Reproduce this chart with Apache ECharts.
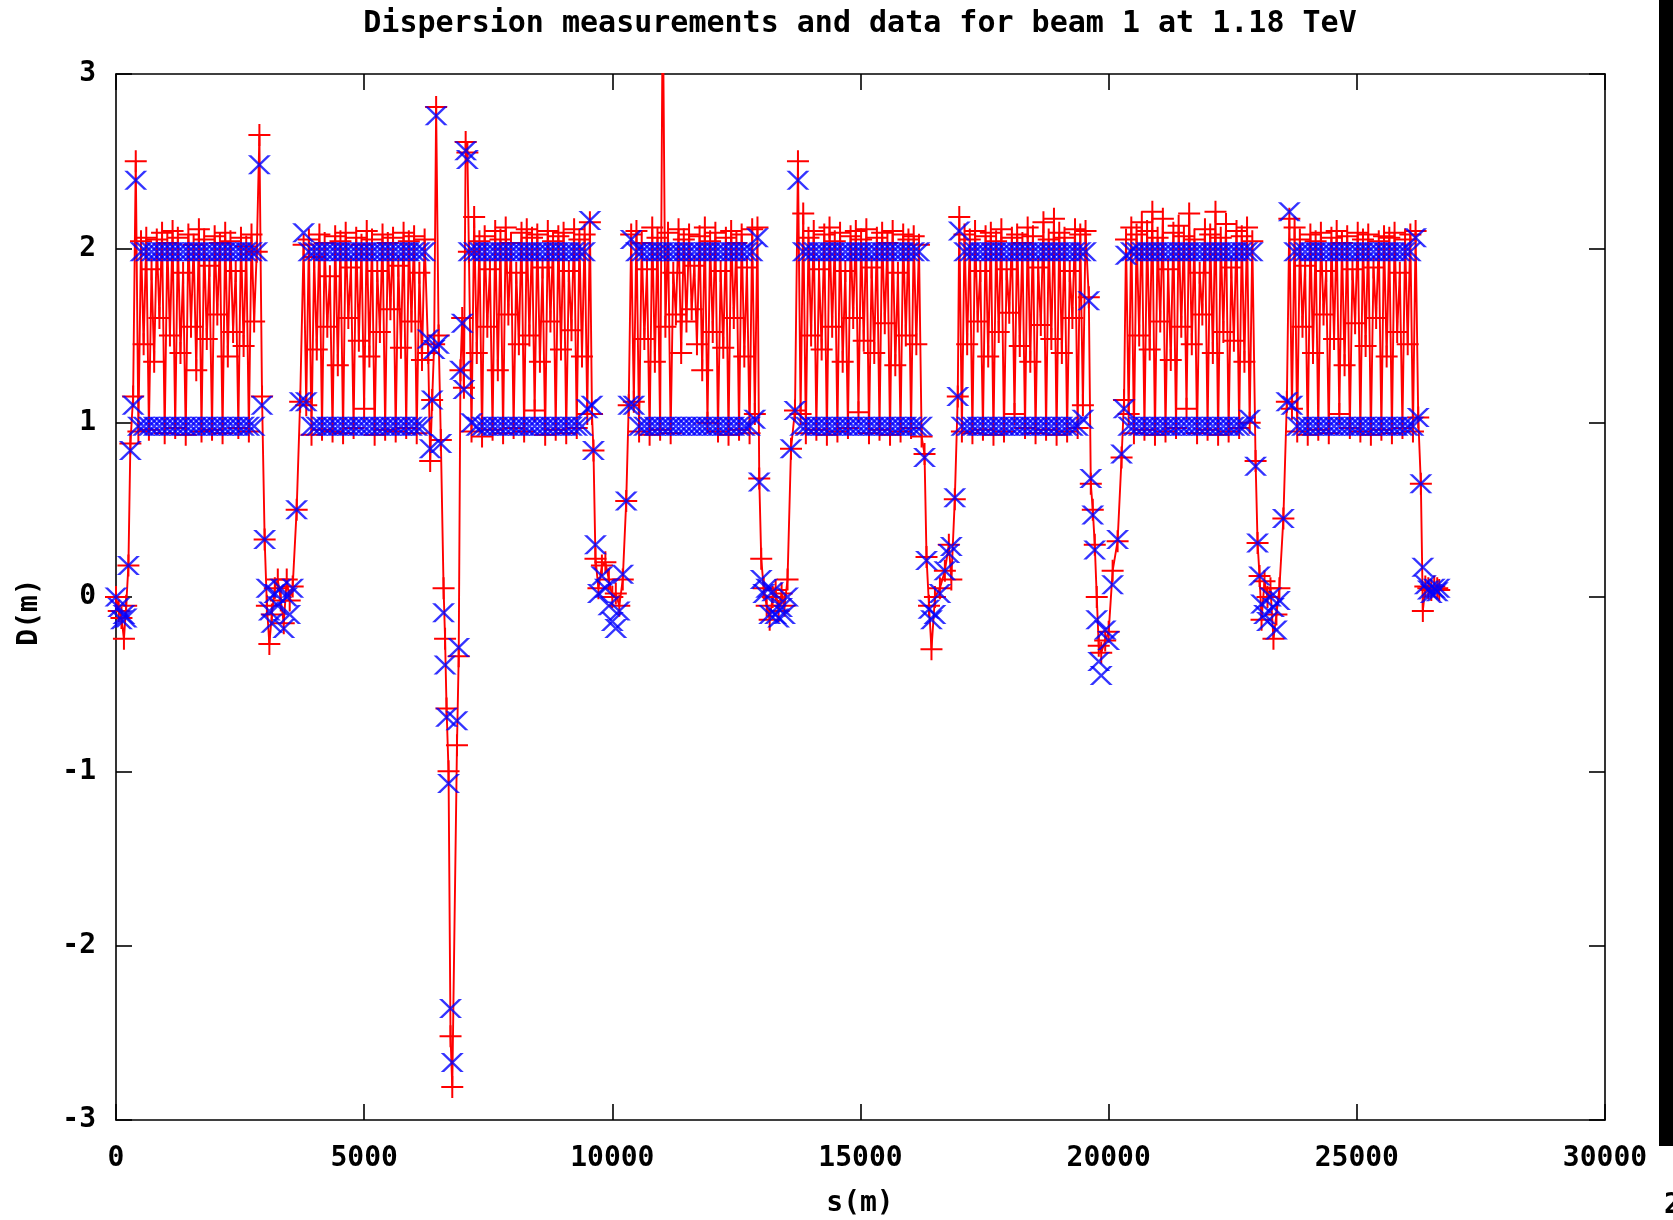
<!DOCTYPE html>
<html>
<head>
<meta charset="utf-8">
<title>Dispersion beam 1</title>
<script src="https://cdn.jsdelivr.net/npm/echarts@6/dist/echarts.min.js"></script>
<style>
  html, body { margin: 0; padding: 0; background: #fff; }
  #chart { width: 1673px; height: 1220px; }
</style>
</head>
<body>
<div id="chart"></div>
<script>
// Axis ticks
const xTicks = [0, 5000, 10000, 15000, 20000, 25000, 30000];
const yTicks = [-3, -2, -1, 0, 1, 2, 3];

// BPM positions s (m), measured dispersion D (m) and model dispersion D (m), per machine section
const ir0S = [0, 55, 110, 160, 205, 250, 290];
const ir0Meas = [0.00, -0.08, -0.12, -0.24, -0.05, 0.18, 0.88];
const ir0Model = [0.00, -0.06, -0.13, -0.10, -0.12, 0.18, 0.84];

const arc1S = [345, 398, 451, 504, 557, 610, 663, 716, 769, 822, 875, 928, 981, 1034, 1087, 1140, 1193, 1246, 1299, 1352, 1405, 1458, 1511, 1564, 1617, 1670, 1723, 1776, 1829, 1882, 1935, 1988, 2041, 2094, 2147, 2200, 2253, 2306, 2359, 2412, 2465, 2518, 2571, 2624, 2677, 2730, 2783, 2836, 2889, 2942];
const arc1Meas = [
  1.15, 2.50, 0.95, 2.04, 1.45, 2.06, 0.96, 1.88, 1.35, 2.05,
  1.60, 2.09, 0.94, 2.03, 1.50, 2.10, 0.97, 2.06, 1.40, 1.86,
  0.93, 2.08, 1.55, 2.02, 1.30, 2.11, 0.95, 2.05, 1.48, 1.90,
  0.96, 2.07, 1.62, 2.03, 0.94, 2.09, 1.38, 2.04, 1.52, 1.87,
  0.97, 2.06, 1.44, 2.01, 0.95, 2.08, 1.58, 1.98, 2.65, 1.15];
const arc1Model = [
  1.10, 2.39, 0.98, 1.98, 0.98, 1.98, 0.98, 1.98, 0.98, 1.98,
  0.98, 1.98, 0.98, 1.98, 0.98, 1.98, 0.98, 1.98, 0.98, 1.98,
  0.98, 1.98, 0.98, 1.98, 0.98, 1.98, 0.98, 1.98, 0.98, 1.98,
  0.98, 1.98, 0.98, 1.98, 0.98, 1.98, 0.98, 1.98, 0.98, 1.98,
  0.98, 1.98, 0.98, 1.98, 0.98, 1.98, 0.98, 1.98, 2.48, 1.10];

const ir1S = [2995, 3040, 3090, 3140, 3200, 3260, 3320, 3380, 3440, 3500, 3560, 3640, 3710];
const ir1Meas = [0.33, -0.05, -0.27, -0.10, 0.05, 0.10, -0.02, -0.15, 0.10, -0.02, 0.06, 0.50, 1.12];
const ir1Model = [0.33, 0.05, -0.08, -0.15, 0.02, -0.05, 0.05, -0.18, 0.00, -0.10, 0.05, 0.50, 1.12];

const arc2S = [3780, 3833, 3886, 3939, 3992, 4045, 4098, 4151, 4204, 4257, 4310, 4363, 4416, 4469, 4522, 4575, 4628, 4681, 4734, 4787, 4840, 4893, 4946, 4999, 5052, 5105, 5158, 5211, 5264, 5317, 5370, 5423, 5476, 5529, 5582, 5635, 5688, 5741, 5794, 5847, 5900, 5953, 6006, 6059, 6112, 6165, 6218];
const arc2Meas = [
  2.02, 1.10, 2.05, 0.93, 1.95, 1.42, 2.08, 0.96, 2.03, 1.55,
  1.84, 0.95, 2.07, 1.33, 2.04, 0.94, 2.09, 1.60, 1.89, 0.97,
  2.06, 1.47, 2.02, 1.08, 2.10, 1.38, 2.05, 0.93, 1.87, 1.52,
  2.08, 0.96, 2.03, 1.65, 2.06, 0.95, 1.90, 1.43, 2.09, 0.97,
  2.04, 1.58, 2.07, 0.94, 1.86, 1.36, 2.05];
const arc2Model = [
  2.09, 1.12, 1.98, 0.98, 1.98, 0.98, 1.98, 0.98, 1.98, 0.98,
  1.98, 0.98, 1.98, 0.98, 1.98, 0.98, 1.98, 0.98, 1.98, 0.98,
  1.98, 0.98, 1.98, 0.98, 1.98, 0.98, 1.98, 0.98, 1.98, 0.98,
  1.98, 0.98, 1.98, 0.98, 1.98, 0.98, 1.98, 0.98, 1.98, 0.98,
  1.98, 0.98, 1.98, 0.98, 1.98, 0.98, 1.98];

const ir2S = [6290, 6330, 6370, 6410, 6450, 6500, 6545, 6600, 6630, 6660, 6700, 6740, 6775, 6870, 6905, 6940, 6975, 7010, 7045, 7080];
const ir2Meas = [1.40, 0.78, 1.13, 1.45, 2.81, 1.50, 0.90, 0.05, -0.24, -0.64, -1.00, -2.52, -2.81, -0.85, -0.34, 1.30, 1.60, 1.20, 2.61, 2.55];
const ir2Model = [1.48, 0.85, 1.13, 1.42, 2.76, 1.45, 0.88, -0.09, -0.39, -0.69, -1.07, -2.36, -2.67, -0.71, -0.29, 1.30, 1.57, 1.19, 2.56, 2.51];

const arc3S = [7110, 7163, 7216, 7269, 7322, 7375, 7428, 7481, 7534, 7587, 7640, 7693, 7746, 7799, 7852, 7905, 7958, 8011, 8064, 8117, 8170, 8223, 8276, 8329, 8382, 8435, 8488, 8541, 8594, 8647, 8700, 8753, 8806, 8859, 8912, 8965, 9018, 9071, 9124, 9177, 9230, 9283, 9336, 9389, 9442, 9495, 9548];
const arc3Meas = [
  1.98, 0.95, 2.18, 1.40, 2.04, 0.92, 2.07, 1.55, 1.88, 0.96,
  2.10, 1.30, 2.05, 0.94, 2.12, 1.62, 2.03, 0.97, 1.86, 1.45,
  2.09, 0.95, 2.11, 1.50, 2.06, 1.07, 2.08, 1.35, 1.89, 0.93,
  2.10, 1.58, 2.04, 0.96, 2.07, 1.42, 2.09, 0.94, 1.87, 1.53,
  2.11, 0.97, 2.05, 1.38, 2.08, 1.05, 2.15];
const arc3Model = [
  1.98, 1.00, 1.98, 0.98, 1.98, 0.98, 1.98, 0.98, 1.98, 0.98,
  1.98, 0.98, 1.98, 0.98, 1.98, 0.98, 1.98, 0.98, 1.98, 0.98,
  1.98, 0.98, 1.98, 0.98, 1.98, 0.98, 1.98, 0.98, 1.98, 0.98,
  1.98, 0.98, 1.98, 0.98, 1.98, 0.98, 1.98, 0.98, 1.98, 0.98,
  1.98, 0.98, 1.98, 0.98, 1.98, 1.08, 2.16];

const ir3S = [9590, 9620, 9660, 9720, 9790, 9860, 9930, 10000, 10070, 10140, 10210, 10280, 10330];
const ir3Meas = [1.05, 0.84, 0.22, 0.05, 0.18, 0.20, 0.10, 0.00, 0.02, -0.05, 0.10, 0.55, 1.10];
const ir3Model = [1.10, 0.84, 0.30, 0.02, 0.12, 0.05, -0.05, -0.14, -0.18, -0.08, 0.13, 0.55, 1.10];

const arc4S = [10380, 10433, 10486, 10539, 10592, 10645, 10698, 10751, 10804, 10857, 10910, 10963, 11016, 11069, 11122, 11175, 11228, 11281, 11334, 11387, 11440, 11493, 11546, 11599, 11652, 11705, 11758, 11811, 11864, 11917, 11970, 12023, 12076, 12129, 12182, 12235, 12288, 12341, 12394, 12447, 12500, 12553, 12606, 12659, 12712, 12765, 12818, 12871, 12924];
const arc4Meas = [
  2.08, 1.12, 2.10, 0.95, 2.03, 1.48, 1.88, 0.93, 2.12, 1.35,
  2.06, 0.96, 3.50, 1.55, 2.09, 0.94, 1.86, 1.62, 2.11, 1.40,
  2.05, 1.58, 2.08, 1.65, 1.90, 1.45, 2.07, 1.30, 2.12, 1.00,
  2.04, 1.52, 2.09, 0.95, 1.87, 1.43, 2.06, 0.93, 2.10, 1.60,
  2.03, 0.96, 2.08, 1.38, 1.89, 0.94, 2.11, 1.05, 2.12];
const arc4Model = [
  2.05, 1.10, 1.98, 0.98, 1.98, 0.98, 1.98, 0.98, 1.98, 0.98,
  1.98, 0.98, 1.98, 0.98, 1.98, 0.98, 1.98, 0.98, 1.98, 0.98,
  1.98, 0.98, 1.98, 0.98, 1.98, 0.98, 1.98, 0.98, 1.98, 0.98,
  1.98, 0.98, 1.98, 0.98, 1.98, 0.98, 1.98, 0.98, 1.98, 0.98,
  1.98, 0.98, 1.98, 0.98, 1.98, 0.98, 1.98, 1.02, 2.06];

const ir4S = [12960, 13000, 13050, 13110, 13170, 13230, 13290, 13350, 13410, 13470, 13530, 13600, 13680];
const ir4Meas = [0.68, 0.22, 0.05, -0.05, -0.13, 0.00, 0.04, -0.08, 0.02, -0.05, 0.10, 0.85, 1.07];
const ir4Model = [0.66, 0.10, 0.02, 0.05, -0.10, 0.03, -0.10, -0.12, -0.06, -0.10, 0.00, 0.85, 1.07];

const arc5S = [13740, 13793, 13846, 13899, 13952, 14005, 14058, 14111, 14164, 14217, 14270, 14323, 14376, 14429, 14482, 14535, 14588, 14641, 14694, 14747, 14800, 14853, 14906, 14959, 15012, 15065, 15118, 15171, 15224, 15277, 15330, 15383, 15436, 15489, 15542, 15595, 15648, 15701, 15754, 15807, 15860, 15913, 15966, 16019, 16072, 16125, 16178, 16231];
const arc5Meas = [
  2.50, 1.05, 2.20, 0.94, 2.06, 1.50, 2.10, 0.96, 1.88, 1.42,
  2.08, 0.93, 2.12, 1.55, 2.04, 0.95, 2.09, 1.35, 1.87, 0.97,
  2.07, 1.60, 2.10, 1.06, 2.05, 1.47, 2.11, 0.94, 1.89, 1.40,
  2.06, 0.96, 2.09, 1.57, 2.03, 0.93, 2.10, 1.33, 1.86, 0.95,
  2.08, 1.50, 2.05, 0.97, 2.07, 1.45, 2.02, 0.92];
const arc5Model = [
  2.39, 0.98, 1.98, 0.98, 1.98, 0.98, 1.98, 0.98, 1.98, 0.98,
  1.98, 0.98, 1.98, 0.98, 1.98, 0.98, 1.98, 0.98, 1.98, 0.98,
  1.98, 0.98, 1.98, 0.98, 1.98, 0.98, 1.98, 0.98, 1.98, 0.98,
  1.98, 0.98, 1.98, 0.98, 1.98, 0.98, 1.98, 0.98, 1.98, 0.98,
  1.98, 0.98, 1.98, 0.98, 1.98, 0.98, 1.98, 0.98];

const ir5S = [16290, 16330, 16380, 16430, 16500, 16600, 16700, 16780, 16830, 16900, 16960];
const ir5Meas = [0.82, 0.23, -0.05, -0.30, 0.00, 0.05, 0.15, 0.30, 0.10, 0.56, 1.15];
const ir5Model = [0.80, 0.21, -0.07, -0.13, -0.10, 0.02, 0.15, 0.25, 0.29, 0.57, 1.15];

const arc6S = [16990, 17043, 17096, 17149, 17202, 17255, 17308, 17361, 17414, 17467, 17520, 17573, 17626, 17679, 17732, 17785, 17838, 17891, 17944, 17997, 18050, 18103, 18156, 18209, 18262, 18315, 18368, 18421, 18474, 18527, 18580, 18633, 18686, 18739, 18792, 18845, 18898, 18951, 19004, 19057, 19110, 19163, 19216, 19269, 19322, 19375, 19428, 19481, 19534];
const arc6Meas = [
  2.18, 0.95, 2.08, 1.45, 2.05, 0.94, 2.10, 1.58, 1.87, 0.96,
  2.07, 1.38, 2.09, 0.93, 2.04, 1.52, 2.11, 0.95, 1.88, 1.63,
  2.06, 1.05, 2.08, 1.44, 2.03, 0.97, 2.12, 1.35, 2.07, 0.94,
  1.89, 1.56, 2.15, 0.96, 2.05, 1.48, 2.17, 0.93, 2.09, 1.40,
  2.06, 0.95, 1.87, 1.60, 2.11, 0.97, 2.08, 1.10, 2.10];
const arc6Model = [
  2.10, 0.98, 1.98, 0.98, 1.98, 0.98, 1.98, 0.98, 1.98, 0.98,
  1.98, 0.98, 1.98, 0.98, 1.98, 0.98, 1.98, 0.98, 1.98, 0.98,
  1.98, 0.98, 1.98, 0.98, 1.98, 0.98, 1.98, 0.98, 1.98, 0.98,
  1.98, 0.98, 1.98, 0.98, 1.98, 0.98, 1.98, 0.98, 1.98, 0.98,
  1.98, 0.98, 1.98, 0.98, 1.98, 0.98, 1.98, 1.02, 1.98];

const ir6S = [19600, 19640, 19680, 19720, 19760, 19800, 19850, 19930, 20000, 20080, 20180, 20260, 20310];
const ir6Meas = [1.72, 0.65, 0.50, 0.30, 0.00, -0.28, -0.32, -0.25, -0.20, 0.15, 0.32, 0.80, 1.13];
const ir6Model = [1.70, 0.68, 0.47, 0.27, -0.13, -0.37, -0.45, -0.19, -0.25, 0.07, 0.33, 0.82, 1.08];

const arc7S = [20350, 20403, 20456, 20509, 20562, 20615, 20668, 20721, 20774, 20827, 20880, 20933, 20986, 21039, 21092, 21145, 21198, 21251, 21304, 21357, 21410, 21463, 21516, 21569, 21622, 21675, 21728, 21781, 21834, 21887, 21940, 21993, 22046, 22099, 22152, 22205, 22258, 22311, 22364, 22417, 22470, 22523, 22576, 22629, 22682, 22735, 22788, 22841, 22894];
const arc7Meas = [
  2.05, 1.05, 2.12, 0.94, 2.08, 1.50, 2.15, 0.96, 2.10, 1.42,
  2.21, 0.93, 2.06, 1.58, 2.17, 0.95, 1.88, 1.36, 2.09, 0.97,
  2.13, 1.55, 2.07, 1.08, 2.20, 1.45, 2.05, 0.94, 1.86, 1.62,
  2.11, 0.96, 2.08, 1.40, 2.21, 0.93, 2.06, 1.52, 2.14, 0.95,
  1.89, 1.47, 2.10, 0.97, 2.07, 1.35, 2.12, 1.00, 2.04];
const arc7Model = [
  1.96, 0.98, 1.98, 0.98, 1.98, 0.98, 1.98, 0.98, 1.98, 0.98,
  1.98, 0.98, 1.98, 0.98, 1.98, 0.98, 1.98, 0.98, 1.98, 0.98,
  1.98, 0.98, 1.98, 0.98, 1.98, 0.98, 1.98, 0.98, 1.98, 0.98,
  1.98, 0.98, 1.98, 0.98, 1.98, 0.98, 1.98, 0.98, 1.98, 0.98,
  1.98, 0.98, 1.98, 0.98, 1.98, 0.98, 1.98, 1.02, 1.98];

const ir7S = [22960, 23000, 23040, 23080, 23140, 23200, 23260, 23320, 23380, 23440, 23520, 23590];
const ir7Meas = [0.78, 0.31, 0.12, -0.13, 0.09, 0.00, 0.05, -0.24, -0.10, 0.05, 0.45, 1.12];
const ir7Model = [0.75, 0.31, 0.12, -0.04, -0.10, -0.14, 0.00, -0.06, -0.19, -0.02, 0.45, 1.12];

const arc8S = [23640, 23693, 23746, 23799, 23852, 23905, 23958, 24011, 24064, 24117, 24170, 24223, 24276, 24329, 24382, 24435, 24488, 24541, 24594, 24647, 24700, 24753, 24806, 24859, 24912, 24965, 25018, 25071, 25124, 25177, 25230, 25283, 25336, 25389, 25442, 25495, 25548, 25601, 25654, 25707, 25760, 25813, 25866, 25919, 25972, 26025, 26078, 26131, 26184, 26237];
const arc8Meas = [
  2.17, 1.08, 2.12, 0.95, 2.05, 1.55, 1.90, 0.93, 2.08, 1.40,
  2.04, 0.96, 2.09, 1.62, 1.87, 0.94, 2.06, 1.48, 2.10, 1.05,
  2.03, 1.33, 2.07, 0.97, 1.88, 1.57, 2.09, 0.95, 2.05, 1.44,
  2.08, 0.93, 1.89, 1.60, 2.04, 0.96, 2.07, 1.38, 2.06, 0.94,
  2.09, 1.52, 1.86, 0.97, 2.05, 1.45, 2.08, 0.95, 2.10, 1.03];
const arc8Model = [
  2.21, 1.10, 1.98, 0.98, 1.98, 0.98, 1.98, 0.98, 1.98, 0.98,
  1.98, 0.98, 1.98, 0.98, 1.98, 0.98, 1.98, 0.98, 1.98, 0.98,
  1.98, 0.98, 1.98, 0.98, 1.98, 0.98, 1.98, 0.98, 1.98, 0.98,
  1.98, 0.98, 1.98, 0.98, 1.98, 0.98, 1.98, 0.98, 1.98, 0.98,
  1.98, 0.98, 1.98, 0.98, 1.98, 0.98, 1.98, 0.98, 2.06, 1.03];

const ir8S = [26290, 26330, 26380, 26440, 26500, 26560, 26620, 26660];
const ir8Meas = [0.65, -0.08, 0.06, 0.05, 0.04, 0.06, 0.05, 0.04];
const ir8Model = [0.65, 0.17, 0.07, 0.04, 0.02, 0.05, 0.03, 0.05];

// Sections in ring order
const sections = [
  [ir0S, ir0Meas, ir0Model], [arc1S, arc1Meas, arc1Model],
  [ir1S, ir1Meas, ir1Model], [arc2S, arc2Meas, arc2Model],
  [ir2S, ir2Meas, ir2Model], [arc3S, arc3Meas, arc3Model],
  [ir3S, ir3Meas, ir3Model], [arc4S, arc4Meas, arc4Model],
  [ir4S, ir4Meas, ir4Model], [arc5S, arc5Meas, arc5Model],
  [ir5S, ir5Meas, ir5Model], [arc6S, arc6Meas, arc6Model],
  [ir6S, ir6Meas, ir6Model], [arc7S, arc7Meas, arc7Model],
  [ir7S, ir7Meas, ir7Model], [arc8S, arc8Meas, arc8Model],
  [ir8S, ir8Meas, ir8Model]
];

const measured = [];
const model = [];
sections.forEach(([s, meas, mod]) => {
  s.forEach((pos, i) => {
    measured.push([pos, meas[i]]);
    model.push([pos, mod[i]]);
  });
});

// gnuplot-style point markers: "+" for the measurement, "x" for the model
const PLUS = 'path://M0,10H22V12H0Z M10,0H12V22H10Z';
const CROSS = 'path://M0,0H3.4L23,19H19.6Z M19.6,0H23L3.4,19H0Z';
const FONT = '"DejaVu Sans Mono", "Liberation Mono", monospace';

const axisLine = { show: true, onZero: false, lineStyle: { color: '#000', width: 1.6 } };
const axisTick = { show: true, inside: true, length: 16, lineStyle: { color: '#000', width: 1.6 } };
const labelStyle = { color: '#000', fontFamily: FONT, fontWeight: 'bold', fontSize: 28 };

const xRange = { min: xTicks[0], max: xTicks[xTicks.length - 1], interval: xTicks[1] - xTicks[0] };
const yRange = { min: yTicks[0], max: yTicks[yTicks.length - 1], interval: yTicks[1] - yTicks[0] };

const chart = echarts.init(document.getElementById('chart'), null, { renderer: 'canvas' });
chart.setOption({
  animation: false,
  backgroundColor: '#ffffff',
  grid: { left: 116, right: 68, top: 74, bottom: 100, containLabel: false },
  xAxis: [
    Object.assign({
      type: 'value', position: 'bottom', axisLine, axisTick,
      splitLine: { show: false },
      axisLabel: Object.assign({ margin: 25, formatter: v => String(v) }, labelStyle)
    }, xRange),
    Object.assign({
      type: 'value', position: 'top', axisLine, axisTick,
      splitLine: { show: false }, axisLabel: { show: false }
    }, xRange)
  ],
  yAxis: [
    Object.assign({
      type: 'value', position: 'left', axisLine, axisTick,
      splitLine: { show: false },
      axisLabel: Object.assign({ margin: 20, formatter: v => String(v) }, labelStyle)
    }, yRange),
    Object.assign({
      type: 'value', position: 'right', axisLine, axisTick,
      splitLine: { show: false }, axisLabel: { show: false }
    }, yRange)
  ],
  series: [
    {
      name: 'measured',
      type: 'line',
      xAxisIndex: 0, yAxisIndex: 0,
      data: measured,
      clip: true,
      showSymbol: true,
      symbol: PLUS,
      symbolSize: [22, 22],
      lineStyle: { color: '#ff0000', width: 1.9 },
      itemStyle: { color: '#ff0000', borderWidth: 0 },
      emphasis: { disabled: true },
      z: 2
    },
    {
      name: 'model',
      type: 'scatter',
      xAxisIndex: 0, yAxisIndex: 0,
      data: model,
      clip: true,
      symbol: CROSS,
      symbolSize: [23, 19],
      itemStyle: { color: '#0000ff', borderWidth: 0 },
      emphasis: { disabled: true },
      z: 3
    }
  ],
  graphic: [
    {
      type: 'text', x: 860, y: 24,
      style: { text: 'Dispersion measurements and data for beam 1 at 1.18 TeV', fill: '#000',
               font: 'bold 30px ' + FONT, textAlign: 'center', textVerticalAlign: 'middle' }
    },
    {
      type: 'text', x: 860, y: 1204,
      style: { text: 's(m)', fill: '#000', font: 'bold 28px ' + FONT,
               textAlign: 'center', textVerticalAlign: 'middle' }
    },
    {
      type: 'text', x: 30, y: 612, rotation: Math.PI / 2,
      style: { text: 'D(m)', fill: '#000', font: 'bold 28px ' + FONT,
               textAlign: 'center', textVerticalAlign: 'middle' }
    },
    {
      type: 'rect', shape: { x: 1659, y: 0, width: 14, height: 1146 },
      style: { fill: '#000' }
    },
    {
      type: 'text', x: 1664, y: 1206,
      style: { text: '2', fill: '#000', font: 'bold 28px ' + FONT,
               textAlign: 'left', textVerticalAlign: 'middle' }
    }
  ]
});
</script>
</body>
</html>
